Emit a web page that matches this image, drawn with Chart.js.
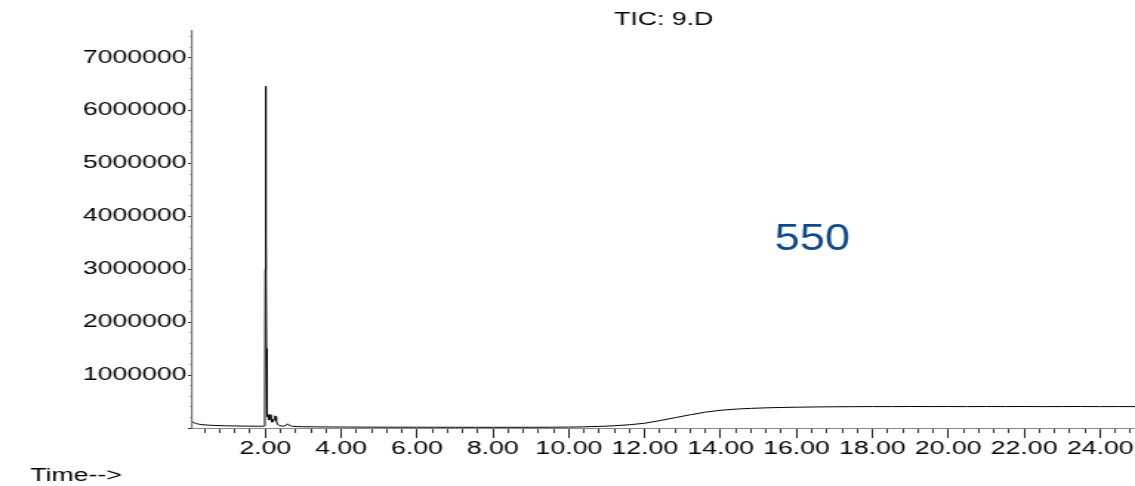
<!DOCTYPE html>
<html>
<head>
<meta charset="utf-8">
<script src="https://cdn.jsdelivr.net/npm/chart.js@4.4.0/dist/chart.umd.min.js"></script>
<style>
html,body{margin:0;padding:0;background:#fff;overflow:hidden}
canvas{display:block}
</style>
</head>
<body>
<canvas id="c" width="767" height="486" style="width:1135px;height:486px"></canvas>
<script>
// ---- data ----
const times = [0.08,0.12,0.18,0.25,0.35,0.5,0.7,0.95,1.25,1.55,1.8,1.95,1.99,2.002,2.008,2.013,2.018,2.024,2.03,2.038,2.048,2.06,2.075,2.09,2.105,2.125,2.145,2.165,2.185,2.205,2.23,2.255,2.27,2.29,2.32,2.36,2.42,2.5,2.56,2.59,2.63,2.7,2.85,3.0,3.4,3.8,4.2,4.6,5.0,5.5,6.0,6.5,7.0,7.5,8.0,8.5,9.0,9.5,10.0,10.4,10.8,11.2,11.6,12.0,12.4,12.8,13.2,13.6,14.0,14.4,14.8,15.2,15.6,16.0,16.5,17.0,17.5,18.0,18.5,19.0,19.5,20.0,20.5,21.0,21.5,22.0,22.5,23.0,23.5,24.0,24.5,24.92];
const intensities = [118000,100000,84000,72000,62000,54000,47000,42000,38000,35000,34000,33000,40000,3000000,6100000,6460000,6000000,3600000,1500000,600000,300000,220000,250000,190000,150000,210000,255000,170000,110000,120000,160000,230000,215000,130000,75000,50000,38000,36000,55000,80000,50000,34000,26000,24000,21000,19000,17500,16500,15500,15000,14500,14000,13500,13500,13000,13000,13500,14500,17000,22000,30000,42000,62000,90000,140000,195000,250000,300000,335000,357000,371000,381000,388000,393000,398000,401000,403000,405000,404000,406000,405000,406000,404000,406000,405000,406000,404000,405000,406000,404000,405000,404000];

const xMajorTicks = [2,4,6,8,10,12,14,16,18,20,22,24];
const xTickLabels = ['2.00','4.00','6.00','8.00','10.00','12.00','14.00','16.00','18.00','20.00','22.00','24.00'];
const yMajorTicks = [0,1000000,2000000,3000000,4000000,5000000,6000000,7000000];
const yTickLabels = ['','1000000','2000000','3000000','4000000','5000000','6000000','7000000'];

const titleText = 'TIC: 9.D';
const xAxisLabel = 'Time-->';
const annotationText = '550';

const X_MIN = 0.08, X_MAX = 24.92, Y_MIN = 0, Y_MAX = 7510000;

// minor tick positions (every 0.4 min / every 200000 counts)
const xMinorTicks = [];
for (let k = 1; k <= 62; k++) { const v = Math.round(k * 4) / 10; if (k % 5 !== 0) xMinorTicks.push(v); }
const yMinorTicks = [];
for (let k = 1; k <= 37; k++) { if (k % 5 !== 0) yMinorTicks.push(k * 200000); }

// ---- chart ----
const FONT_FAMILY = '"Liberation Sans", Arial, Helvetica, sans-serif';
const tickFont = { family: FONT_FAMILY, size: 18, weight: 'normal' };

const textPlugin = {
  id: 'texts',
  afterDraw(chart) {
    const c = chart.ctx;
    c.save();
    c.fillStyle = '#000';
    c.font = '18px ' + FONT_FAMILY;
    c.textAlign = 'left';
    c.textBaseline = 'alphabetic';
    c.fillText(xAxisLabel, 20.5, 481);
    c.restore();

    c.save();
    c.fillStyle = '#0c4a8b';
    c.font = '36px ' + FONT_FAMILY;
    c.textAlign = 'center';
    c.textBaseline = 'alphabetic';
    c.translate(549, 250);
    c.scale(0.845, 1);
    c.fillText(annotationText, 0, 0);
    c.restore();
  }
};

new Chart(document.getElementById('c'), {
  type: 'line',
  data: {
    datasets: [{
      data: times.map((t, i) => ({ x: t, y: intensities[i] })),
      borderColor: '#000',
      borderWidth: 1,
      pointRadius: 0,
      tension: 0,
      fill: false
    }]
  },
  options: {
    responsive: false,
    animation: false,
    devicePixelRatio: 1,
    layout: { padding: 0 },
    plugins: {
      legend: { display: false },
      tooltip: { enabled: false },
      title: {
        display: true,
        text: titleText,
        fullSize: false,
        align: 'center',
        color: '#000',
        font: tickFont,
        padding: { top: 9, bottom: 0 }
      }
    },
    scales: {
      x: {
        type: 'linear', position: 'bottom', min: X_MIN, max: X_MAX, weight: 10,
        afterBuildTicks: s => { s.ticks = xMajorTicks.map(v => ({ value: v })); },
        ticks: {
          autoSkip: false, maxRotation: 0, minRotation: 0, padding: 0,
          color: '#000', font: tickFont,
          callback: v => xTickLabels[xMajorTicks.indexOf(v)]
        },
        grid: { drawOnChartArea: false, drawTicks: true, tickLength: 10, tickColor: '#222', tickWidth: 1 },
        border: { display: true, color: '#888', width: 1 },
        afterFit: s => { s.height = 58; s.paddingLeft = 0; s.paddingRight = 0; }
      },
      xMinor: {
        type: 'linear', position: 'bottom', min: X_MIN, max: X_MAX, weight: 0,
        afterBuildTicks: s => { s.ticks = xMinorTicks.map(v => ({ value: v })); },
        ticks: { display: false },
        grid: { drawOnChartArea: false, drawTicks: true, tickLength: 5, tickColor: '#333', tickWidth: 1 },
        border: { display: false },
        afterFit: s => { s.height = 0; s.paddingLeft = 0; s.paddingRight = 0; }
      },
      y: {
        type: 'linear', position: 'left', min: Y_MIN, max: Y_MAX, weight: 10,
        afterBuildTicks: s => { s.ticks = yMajorTicks.map(v => ({ value: v })); },
        ticks: {
          autoSkip: false, padding: 1, color: '#000', font: tickFont,
          callback: v => yTickLabels[yMajorTicks.indexOf(v)]
        },
        grid: { drawOnChartArea: false, drawTicks: true, tickLength: 3, tickColor: '#333', tickWidth: 1 },
        border: { display: true, color: '#777', width: 1.2 },
        afterFit: s => { s.width = 130; s.paddingTop = 0; s.paddingBottom = 0; }
      },
      yMinor: {
        type: 'linear', position: 'left', min: Y_MIN, max: Y_MAX, weight: 0,
        afterBuildTicks: s => { s.ticks = yMinorTicks.map(v => ({ value: v })); },
        ticks: { display: false },
        grid: { drawOnChartArea: false, drawTicks: true, tickLength: 1.5, tickColor: '#555', tickWidth: 1 },
        border: { display: false },
        afterFit: s => { s.width = 0; s.paddingTop = 0; s.paddingBottom = 0; }
      }
    }
  },
  plugins: [textPlugin]
});
</script>
</body>
</html>
